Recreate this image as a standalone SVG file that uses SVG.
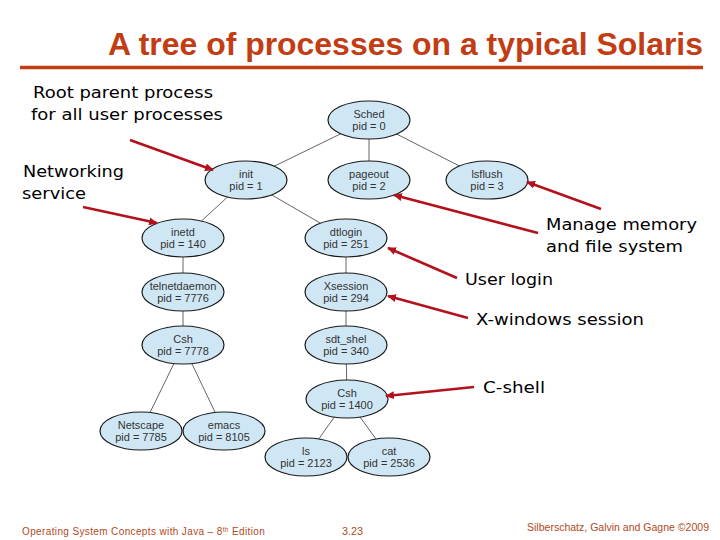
<svg xmlns="http://www.w3.org/2000/svg" width="720" height="540" viewBox="0 0 720 540">
<defs>
<style>
.node ellipse{fill:#cfe7f5;stroke:#1a1a1a;stroke-width:1.2}
.node text{font-family:"Liberation Sans",Arial,sans-serif;font-size:11px;fill:#333;text-anchor:middle}
.edge{stroke:#666;stroke-width:1;fill:none}
.ann{stroke:#b3121d;stroke-width:2.6;fill:none;marker-end:url(#ah)}
.lbl{font-family:"DejaVu Sans",Verdana,sans-serif;font-size:16px;fill:#000}
.foot{font-family:"Liberation Sans",Arial,sans-serif;font-size:10px;fill:#b04a22}
</style>
<marker id="ah" markerWidth="9" markerHeight="8" refX="8" refY="4" orient="auto" markerUnits="userSpaceOnUse">
<path d="M0,0 L9,4 L0,8 Z" fill="#b3121d"/>
</marker>
</defs>
<rect width="720" height="540" fill="#fff"/>
<text x="108" y="55" font-family="Liberation Sans,Arial,sans-serif" font-weight="bold" font-size="32" fill="#c23d14" textLength="595" lengthAdjust="spacingAndGlyphs">A tree of processes on a typical Solaris</text>
<line x1="20" y1="67.5" x2="703" y2="67.5" stroke="#c23d14" stroke-width="3.5"/>

<g id="connectors">
<line class="edge" x1="369" y1="120" x2="246" y2="180"/>
<line class="edge" x1="369" y1="120" x2="369" y2="180"/>
<line class="edge" x1="369" y1="120" x2="487" y2="180"/>
<line class="edge" x1="246" y1="180" x2="183" y2="238"/>
<line class="edge" x1="246" y1="180" x2="346" y2="238"/>
<line class="edge" x1="183" y1="238" x2="183" y2="292" stroke="#aaa"/>
<line class="edge" x1="183" y1="292" x2="183" y2="345" stroke="#aaa"/>
<line class="edge" x1="183" y1="345" x2="141" y2="431"/>
<line class="edge" x1="183" y1="345" x2="224" y2="431"/>
<line class="edge" x1="346" y1="238" x2="346" y2="292"/>
<line class="edge" x1="346" y1="292" x2="346" y2="345"/>
<line class="edge" x1="346" y1="345" x2="347" y2="399"/>
<line class="edge" x1="347" y1="399" x2="306" y2="457"/>
<line class="edge" x1="347" y1="399" x2="389" y2="457"/>
</g>

<g id="sched" class="node"><ellipse cx="369" cy="120" rx="41" ry="19"/><text x="369" y="118">Sched</text><text x="369" y="130">pid = 0</text></g>
<g id="init" class="node"><ellipse cx="246" cy="180" rx="41" ry="19"/><text x="246" y="178">init</text><text x="246" y="190">pid = 1</text></g>
<g id="pageout" class="node"><ellipse cx="369" cy="180" rx="41" ry="19"/><text x="369" y="178">pageout</text><text x="369" y="190">pid = 2</text></g>
<g id="lsflush" class="node"><ellipse cx="487" cy="180" rx="41" ry="19"/><text x="487" y="178">lsflush</text><text x="487" y="190">pid = 3</text></g>
<g id="inetd" class="node"><ellipse cx="183" cy="238" rx="41" ry="19"/><text x="183" y="236">inetd</text><text x="183" y="248">pid = 140</text></g>
<g id="telnetdaemon" class="node"><ellipse cx="183" cy="292" rx="41" ry="19"/><text x="183" y="290">telnetdaemon</text><text x="183" y="302">pid = 7776</text></g>
<g id="csh7778" class="node"><ellipse cx="183" cy="345" rx="41" ry="19"/><text x="183" y="343">Csh</text><text x="183" y="355">pid = 7778</text></g>
<g id="dtlogin" class="node"><ellipse cx="346" cy="238" rx="41" ry="19"/><text x="346" y="236">dtlogin</text><text x="346" y="248">pid = 251</text></g>
<g id="xsession" class="node"><ellipse cx="346" cy="292" rx="41" ry="19"/><text x="346" y="290">Xsession</text><text x="346" y="302">pid = 294</text></g>
<g id="sdt_shel" class="node"><ellipse cx="346" cy="345" rx="41" ry="19"/><text x="346" y="343">sdt_shel</text><text x="346" y="355">pid = 340</text></g>
<g id="csh1400" class="node"><ellipse cx="347" cy="399" rx="41" ry="19"/><text x="347" y="397">Csh</text><text x="347" y="409">pid = 1400</text></g>
<g id="netscape" class="node"><ellipse cx="141" cy="431" rx="41" ry="19"/><text x="141" y="429">Netscape</text><text x="141" y="441">pid = 7785</text></g>
<g id="emacs" class="node"><ellipse cx="224" cy="431" rx="41" ry="19"/><text x="224" y="429">emacs</text><text x="224" y="441">pid = 8105</text></g>
<g id="ls" class="node"><ellipse cx="306" cy="457" rx="41" ry="19"/><text x="306" y="455">ls</text><text x="306" y="467">pid = 2123</text></g>
<g id="cat" class="node"><ellipse cx="389" cy="457" rx="41" ry="19"/><text x="389" y="455">cat</text><text x="389" y="467">pid = 2536</text></g>

<g id="annotations">
<line class="ann" x1="130" y1="140" x2="213" y2="170"/>
<line class="ann" x1="83" y1="207" x2="157" y2="223"/>
<line class="ann" x1="601" y1="209" x2="527" y2="182"/>
<line class="ann" x1="538" y1="233" x2="394" y2="195"/>
<line class="ann" x1="457" y1="278" x2="388" y2="248"/>
<line class="ann" x1="468" y1="318" x2="388" y2="296"/>
<line class="ann" x1="474" y1="387" x2="386" y2="396"/>
<text class="lbl" x="33" y="98" textLength="180" lengthAdjust="spacingAndGlyphs">Root parent process</text>
<text class="lbl" x="31" y="120" textLength="192" lengthAdjust="spacingAndGlyphs">for all user processes</text>
<text class="lbl" x="23" y="177" textLength="101" lengthAdjust="spacingAndGlyphs">Networking</text>
<text class="lbl" x="22" y="199" textLength="64" lengthAdjust="spacingAndGlyphs">service</text>
<text class="lbl" x="546" y="230" textLength="151" lengthAdjust="spacingAndGlyphs">Manage memory</text>
<text class="lbl" x="546" y="252" textLength="137" lengthAdjust="spacingAndGlyphs">and file system</text>
<text class="lbl" x="465" y="285" textLength="88" lengthAdjust="spacingAndGlyphs">User login</text>
<text class="lbl" x="476" y="325" textLength="168" lengthAdjust="spacingAndGlyphs">X-windows session</text>
<text class="lbl" x="483" y="393" textLength="62" lengthAdjust="spacingAndGlyphs">C-shell</text>
</g>

<text class="foot" x="22" y="535" letter-spacing="0.37">Operating System Concepts with Java – 8<tspan font-size="6.5" dy="-3.5">th</tspan><tspan dy="3.5"> Edition</tspan></text>
<text class="foot" x="342" y="535" textLength="21" lengthAdjust="spacingAndGlyphs">3.23</text>
<text class="foot" x="527" y="531" textLength="182" lengthAdjust="spacingAndGlyphs">Silberschatz, Galvin and Gagne ©2009</text>
</svg>
